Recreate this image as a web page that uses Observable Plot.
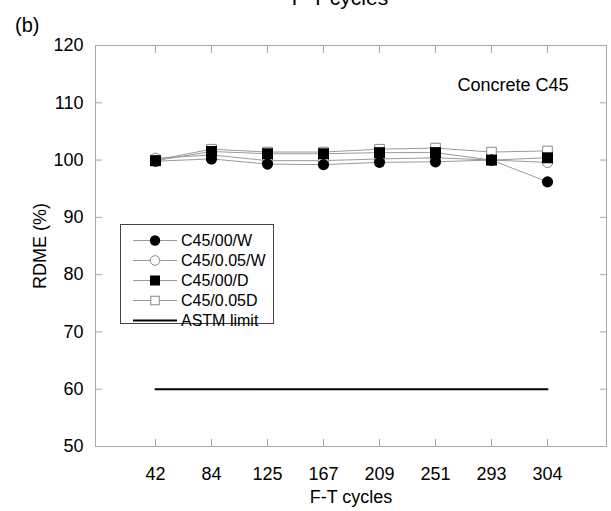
<!DOCTYPE html>
<html>
<head>
<meta charset="utf-8">
<script src="https://cdn.jsdelivr.net/npm/d3@7"></script>
<script src="https://cdn.jsdelivr.net/npm/@observablehq/plot@0.6"></script>
<style>
  html, body { margin: 0; padding: 0; background: white; }
  #chart { width: 611px; height: 511px; overflow: hidden; }
</style>
</head>
<body>
<div id="chart"></div>
<script>
// F-T cycle counts (categorical, evenly spaced on the x axis)
const cycles = ["42", "84", "125", "167", "209", "251", "293", "304"];

// Relative dynamic modulus of elasticity (%) for each mix
const c45_00_W  = [99.8, 100.2, 99.3, 99.2, 99.6, 99.7, 100.0, 96.2];
const c45_005_W = [100.3, 100.9, 99.9, 99.9, 100.2, 100.4, 100.0, 99.6];
const c45_00_D  = [99.9, 101.5, 101.1, 101.1, 101.3, 101.3, 100.0, 100.4];
const c45_005D  = [100.0, 101.9, 101.4, 101.4, 101.9, 102.1, 101.4, 101.6];

const seriesNames = ["C45/00/W", "C45/0.05/W", "C45/00/D", "C45/0.05D"];
const astmName = "ASTM limit";
const astmLimit = 60;

const yTicks = [50, 60, 70, 80, 90, 100, 110, 120];

const seriesValues = [c45_00_W, c45_005_W, c45_00_D, c45_005D];
const rows = seriesValues.flatMap((vals, s) =>
  vals.map((v, i) => ({series: seriesNames[s], cycle: cycles[i], value: v}))
);
const bySeries = name => rows.filter(d => d.series === name);
const astmRows = [cycles[0], cycles[cycles.length - 1]].map(c => ({cycle: c, value: astmLimit}));

const grey = "#a8a8a8";
const lineGrey = "#9a9a9a";
const font = "'Liberation Sans', Arial, Helvetica, sans-serif";

const chart = Plot.plot({
  width: 611,
  height: 511,
  marginLeft: 95,
  marginRight: 5,
  marginTop: 45,
  marginBottom: 65,
  style: {fontFamily: font, fontSize: "18px", color: "black", background: "white", overflow: "visible"},
  x: {type: "point", domain: cycles, padding: 1},
  y: {domain: [50, 120]},
  marks: [
    Plot.frame({stroke: grey}),
    // inward tick marks on all four sides
    Plot.axisX(cycles, {anchor: "bottom", tickSize: -7, text: null, stroke: grey, label: null}),
    Plot.axisX(cycles, {anchor: "top", tickSize: -7, text: null, stroke: grey, label: null}),
    Plot.axisY(yTicks, {anchor: "left", tickSize: -7, text: null, stroke: grey, label: null}),
    Plot.axisY(yTicks, {anchor: "right", tickSize: -7, text: null, stroke: grey, label: null}),
    // tick labels and axis titles
    Plot.axisX(cycles, {anchor: "bottom", tickSize: 0, tickPadding: 21, label: "F-T cycles",
      labelAnchor: "center", labelArrow: "none", labelOffset: 56}),
    Plot.axisY(yTicks, {anchor: "left", tickSize: 0, tickPadding: 12, label: "RDME (%)",
      labelAnchor: "center", labelArrow: "none", labelOffset: 62}),
    // ASTM limit
    Plot.line(astmRows, {x: "cycle", y: "value", stroke: "black", strokeWidth: 2}),
    // series lines
    Plot.line(rows, {x: "cycle", y: "value", z: "series", stroke: lineGrey, strokeWidth: 1}),
    // markers
    Plot.dot(bySeries("C45/0.05D"), {x: "cycle", y: "value", symbol: "square", r: 5.4, fill: "white", stroke: "#888", strokeWidth: 1}),
    Plot.dot(bySeries("C45/0.05/W"), {x: "cycle", y: "value", symbol: "circle", r: 5.2, fill: "white", stroke: "#888", strokeWidth: 1}),
    Plot.dot(bySeries("C45/00/W"), {x: "cycle", y: "value", symbol: "circle", r: 5.6, fill: "black", stroke: "none"}),
    Plot.dot(bySeries("C45/00/D"), {x: "cycle", y: "value", symbol: "square", r: 6.2, fill: "black", stroke: "none"}),
    // panel annotation
    Plot.text(["Concrete C45"], {frameAnchor: "top-right", dx: -38, dy: 40, textAnchor: "end",
      lineAnchor: "middle", fontSize: 18})
  ]
});

const svg = d3.select(chart);

// panel tag and the title strip of the panel above
svg.append("text").attr("x", 15).attr("y", 32).attr("font-size", 20).attr("font-family", font)
  .attr("text-anchor", "start").text("(b)");
svg.append("text").attr("x", 340).attr("y", 4.5).attr("font-size", 21).attr("font-family", font)
  .attr("text-anchor", "middle").text("F-T cycles");

// legend box
const lg = svg.append("g").attr("font-family", font).attr("font-size", 16).attr("text-anchor", "start");
lg.append("rect").attr("x", 120.5).attr("y", 224.5).attr("width", 153).attr("height", 99)
  .attr("fill", "white").attr("stroke", "#444").attr("stroke-width", 1);
const entries = [
  {name: seriesNames[0], kind: "circle", fill: "black", stroke: "none", line: lineGrey, lw: 1},
  {name: seriesNames[1], kind: "circle", fill: "white", stroke: "#888", line: lineGrey, lw: 1},
  {name: seriesNames[2], kind: "square", fill: "black", stroke: "none", line: lineGrey, lw: 1},
  {name: seriesNames[3], kind: "square", fill: "white", stroke: "#888", line: lineGrey, lw: 1},
  {name: astmName, kind: null, line: "black", lw: 2}
];
entries.forEach((e, i) => {
  const y = 240.5 + i * 20;
  lg.append("line").attr("x1", 133).attr("x2", 177).attr("y1", y).attr("y2", y)
    .attr("stroke", e.line).attr("stroke-width", e.lw);
  if (e.kind === "circle") {
    lg.append("circle").attr("cx", 155).attr("cy", y).attr("r", e.fill === "black" ? 5.2 : 4.8)
      .attr("fill", e.fill).attr("stroke", e.stroke);
  } else if (e.kind === "square") {
    const s = e.fill === "black" ? 10 : 8.5;
    lg.append("rect").attr("x", 155 - s / 2).attr("y", y - s / 2).attr("width", s).attr("height", s)
      .attr("fill", e.fill).attr("stroke", e.stroke);
  }
  lg.append("text").attr("x", 181).attr("y", y).attr("dy", "0.35em").text(e.name);
});

document.getElementById("chart").appendChild(chart);
</script>
</body>
</html>
